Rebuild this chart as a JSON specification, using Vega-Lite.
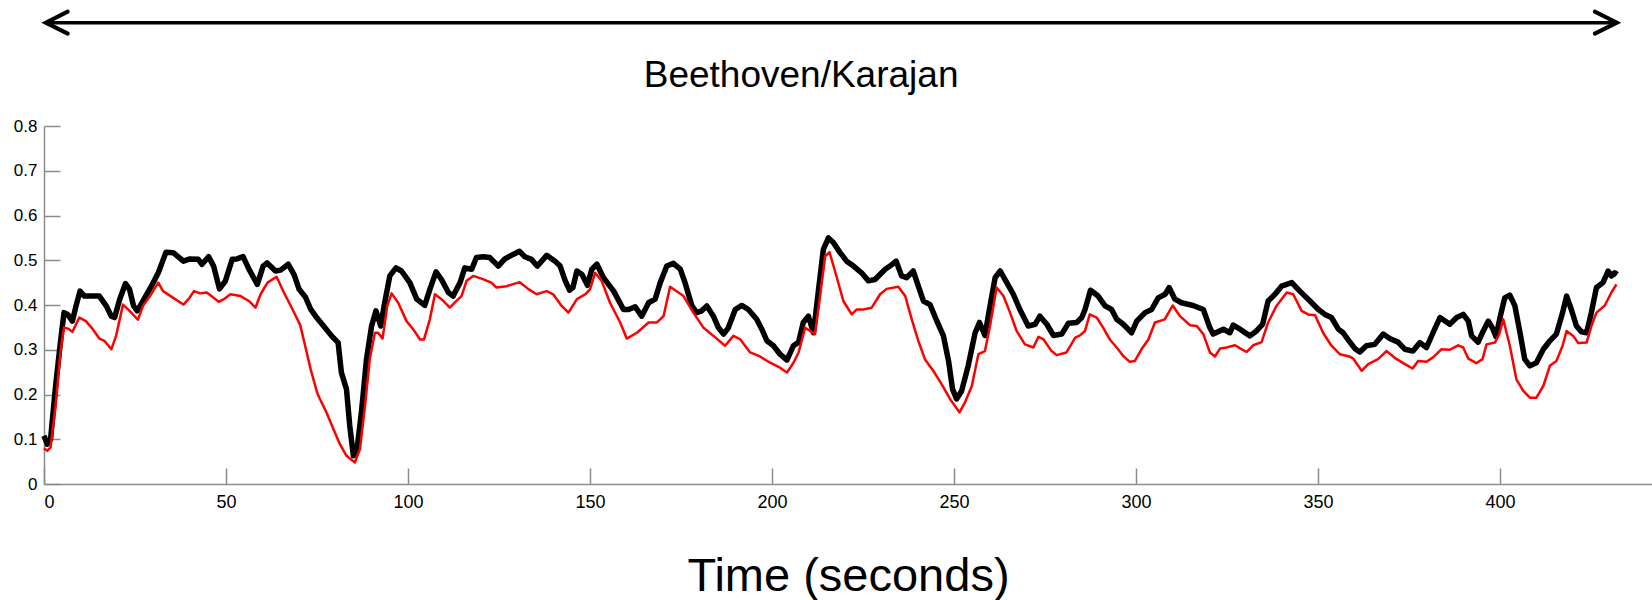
{
  "$schema": "https://vega.github.io/schema/vega-lite/v6.json",
  "width": 1608,
  "height": 358,
  "autosize": {"type": "none"},
  "padding": {"left": 44, "top": 126, "right": 0, "bottom": 116},
  "background": "white",
  "config": {
    "view": {"stroke": null},
    "font": "Liberation Sans",
    "axis": {"grid": false, "domainColor": "#8c8c8c", "tickColor": "#8c8c8c", "domainWidth": 1.5, "tickWidth": 1.5, "labelColor": "#000000", "labelFont": "Liberation Sans"}
  },
  "datasets": {
    "k": [
      {"t":0,"v":0.108},{"t":0.9,"v":0.089},{"t":1.8,"v":0.1},{"t":3.2,"v":0.22},{"t":4.6,"v":0.323},{"t":5.5,"v":0.383},{"t":6.5,"v":0.379},{"t":7.8,"v":0.364},{"t":8.8,"v":0.398},{"t":9.9,"v":0.431},{"t":11.1,"v":0.42},{"t":13.4,"v":0.42},{"t":15.2,"v":0.42},{"t":17.1,"v":0.398},{"t":18.5,"v":0.375},{"t":19.4,"v":0.372},{"t":20.8,"v":0.413},{"t":22.4,"v":0.448},{"t":23.5,"v":0.435},{"t":24.6,"v":0.398},{"t":25.6,"v":0.387},{"t":27.2,"v":0.409},{"t":29.5,"v":0.442},{"t":31.4,"v":0.472},{"t":32.6,"v":0.498},{"t":33.5,"v":0.518},{"t":35.5,"v":0.517},{"t":38.3,"v":0.498},{"t":40.1,"v":0.503},{"t":42.4,"v":0.502},{"t":43.4,"v":0.491},{"t":45.2,"v":0.508},{"t":46.6,"v":0.487},{"t":48.2,"v":0.436},{"t":49.8,"v":0.453},{"t":51.7,"v":0.502},{"t":53.0,"v":0.503},{"t":54.7,"v":0.508},{"t":56.3,"v":0.48},{"t":58.6,"v":0.446},{"t":60.2,"v":0.487},{"t":61.3,"v":0.494},{"t":63.6,"v":0.476},{"t":65.0,"v":0.478},{"t":67.1,"v":0.491},{"t":68.7,"v":0.468},{"t":70.1,"v":0.435},{"t":71.8,"v":0.418},{"t":73.3,"v":0.39},{"t":74.9,"v":0.372},{"t":77.2,"v":0.349},{"t":79.0,"v":0.331},{"t":80.8,"v":0.316},{"t":81.7,"v":0.249},{"t":83.1,"v":0.212},{"t":84.0,"v":0.13},{"t":85.0,"v":0.063},{"t":85.9,"v":0.071},{"t":87.2,"v":0.16},{"t":88.6,"v":0.279},{"t":90.0,"v":0.353},{"t":91.2,"v":0.387},{"t":92.5,"v":0.353},{"t":93.6,"v":0.405},{"t":95.0,"v":0.465},{"t":96.7,"v":0.483},{"t":98.2,"v":0.476},{"t":100.5,"v":0.45},{"t":102.4,"v":0.413},{"t":104.6,"v":0.399},{"t":106.0,"v":0.435},{"t":107.7,"v":0.474},{"t":109.2,"v":0.457},{"t":111.1,"v":0.428},{"t":112.4,"v":0.42},{"t":114.3,"v":0.45},{"t":115.6,"v":0.483},{"t":117.5,"v":0.48},{"t":118.8,"v":0.506},{"t":120.7,"v":0.508},{"t":122.5,"v":0.506},{"t":124.8,"v":0.487},{"t":126.6,"v":0.503},{"t":128.9,"v":0.513},{"t":130.6,"v":0.52},{"t":132.1,"v":0.508},{"t":133.9,"v":0.502},{"t":135.5,"v":0.487},{"t":138.1,"v":0.511},{"t":140.4,"v":0.498},{"t":141.8,"v":0.487},{"t":143.2,"v":0.454},{"t":144.4,"v":0.433},{"t":145.3,"v":0.439},{"t":146.4,"v":0.476},{"t":147.8,"v":0.468},{"t":149.3,"v":0.444},{"t":150.5,"v":0.48},{"t":151.9,"v":0.491},{"t":153.7,"v":0.461},{"t":156.5,"v":0.431},{"t":159.2,"v":0.39},{"t":160.6,"v":0.39},{"t":162.4,"v":0.396},{"t":164.2,"v":0.375},{"t":166.1,"v":0.405},{"t":167.9,"v":0.413},{"t":169.3,"v":0.45},{"t":171.1,"v":0.487},{"t":172.9,"v":0.493},{"t":174.8,"v":0.48},{"t":176.1,"v":0.45},{"t":178.0,"v":0.398},{"t":179.3,"v":0.383},{"t":180.7,"v":0.387},{"t":182.1,"v":0.398},{"t":183.9,"v":0.375},{"t":185.3,"v":0.349},{"t":186.7,"v":0.335},{"t":188.0,"v":0.349},{"t":189.9,"v":0.39},{"t":191.7,"v":0.399},{"t":193.5,"v":0.39},{"t":195.8,"v":0.368},{"t":197.2,"v":0.346},{"t":198.6,"v":0.32},{"t":200.4,"v":0.309},{"t":202.2,"v":0.29},{"t":204.1,"v":0.277},{"t":205.9,"v":0.309},{"t":207.3,"v":0.317},{"t":208.6,"v":0.361},{"t":210.0,"v":0.375},{"t":211.4,"v":0.338},{"t":212.8,"v":0.435},{"t":214.1,"v":0.524},{"t":215.5,"v":0.55},{"t":216.9,"v":0.539},{"t":218.7,"v":0.517},{"t":220.5,"v":0.498},{"t":222.4,"v":0.487},{"t":224.6,"v":0.472},{"t":226.5,"v":0.454},{"t":228.3,"v":0.457},{"t":231.1,"v":0.48},{"t":232.4,"v":0.487},{"t":234.1,"v":0.498},{"t":235.6,"v":0.465},{"t":237.0,"v":0.461},{"t":238.8,"v":0.476},{"t":240.2,"v":0.442},{"t":241.6,"v":0.409},{"t":243.4,"v":0.401},{"t":245.3,"v":0.364},{"t":247.1,"v":0.331},{"t":248.5,"v":0.275},{"t":249.6,"v":0.212},{"t":250.7,"v":0.19},{"t":252.1,"v":0.208},{"t":253.9,"v":0.264},{"t":255.8,"v":0.338},{"t":257.0,"v":0.361},{"t":258.5,"v":0.332},{"t":259.9,"v":0.398},{"t":261.3,"v":0.461},{"t":262.7,"v":0.476},{"t":264.5,"v":0.45},{"t":266.3,"v":0.424},{"t":268.1,"v":0.39},{"t":270.4,"v":0.353},{"t":272.3,"v":0.357},{"t":273.6,"v":0.375},{"t":275.5,"v":0.357},{"t":277.3,"v":0.332},{"t":279.6,"v":0.335},{"t":281.4,"v":0.359},{"t":283.7,"v":0.361},{"t":285.1,"v":0.372},{"t":286.0,"v":0.39},{"t":287.5,"v":0.433},{"t":289.6,"v":0.42},{"t":291.5,"v":0.398},{"t":293.3,"v":0.39},{"t":294.7,"v":0.368},{"t":296.5,"v":0.357},{"t":298.8,"v":0.338},{"t":300.2,"v":0.364},{"t":302.5,"v":0.383},{"t":304.3,"v":0.39},{"t":306.1,"v":0.416},{"t":308.0,"v":0.424},{"t":309.1,"v":0.439},{"t":310.7,"v":0.413},{"t":312.5,"v":0.405},{"t":315.7,"v":0.399},{"t":318.5,"v":0.39},{"t":320.3,"v":0.349},{"t":321.2,"v":0.335},{"t":324.0,"v":0.346},{"t":325.8,"v":0.338},{"t":326.7,"v":0.355},{"t":328.6,"v":0.346},{"t":331.3,"v":0.331},{"t":333.1,"v":0.342},{"t":334.8,"v":0.357},{"t":336.3,"v":0.409},{"t":338.2,"v":0.424},{"t":340.0,"v":0.442},{"t":342.8,"v":0.45},{"t":345.0,"v":0.431},{"t":347.8,"v":0.409},{"t":350.1,"v":0.39},{"t":351.9,"v":0.379},{"t":353.7,"v":0.372},{"t":355.6,"v":0.346},{"t":356.9,"v":0.338},{"t":358.4,"v":0.321},{"t":360.1,"v":0.303},{"t":361.5,"v":0.295},{"t":363.3,"v":0.309},{"t":365.6,"v":0.312},{"t":367.9,"v":0.335},{"t":369.7,"v":0.325},{"t":372.0,"v":0.317},{"t":373.9,"v":0.301},{"t":376.1,"v":0.297},{"t":378.0,"v":0.316},{"t":379.8,"v":0.305},{"t":381.6,"v":0.338},{"t":383.5,"v":0.372},{"t":386.2,"v":0.357},{"t":388.1,"v":0.372},{"t":389.9,"v":0.379},{"t":391.3,"v":0.364},{"t":392.2,"v":0.331},{"t":394.0,"v":0.317},{"t":395.4,"v":0.342},{"t":396.8,"v":0.364},{"t":397.9,"v":0.349},{"t":398.9,"v":0.329},{"t":400.0,"v":0.372},{"t":401.3,"v":0.416},{"t":402.7,"v":0.422},{"t":404.1,"v":0.398},{"t":405.5,"v":0.338},{"t":406.8,"v":0.279},{"t":408.2,"v":0.264},{"t":410.0,"v":0.271},{"t":411.9,"v":0.301},{"t":413.7,"v":0.32},{"t":415.5,"v":0.335},{"t":417.2,"v":0.383},{"t":418.3,"v":0.42},{"t":419.6,"v":0.39},{"t":421.0,"v":0.353},{"t":422.4,"v":0.34},{"t":423.8,"v":0.338},{"t":425.1,"v":0.383},{"t":426.5,"v":0.439},{"t":428.3,"v":0.45},{"t":429.7,"v":0.476},{"t":430.6,"v":0.465},{"t":431.5,"v":0.472},{"t":432.2,"v":0.468}
    ],
    "r": [
      {"t":0,"v":0.08},{"t":0.9,"v":0.074},{"t":1.8,"v":0.082},{"t":3.2,"v":0.175},{"t":4.6,"v":0.301},{"t":5.5,"v":0.35},{"t":6.9,"v":0.346},{"t":7.8,"v":0.34},{"t":9.7,"v":0.372},{"t":11.5,"v":0.364},{"t":13.4,"v":0.346},{"t":15.2,"v":0.325},{"t":16.6,"v":0.32},{"t":18.5,"v":0.301},{"t":19.8,"v":0.331},{"t":21.7,"v":0.401},{"t":23.5,"v":0.387},{"t":25.8,"v":0.367},{"t":27.2,"v":0.398},{"t":29.1,"v":0.42},{"t":31.4,"v":0.45},{"t":32.7,"v":0.431},{"t":35.5,"v":0.416},{"t":38.3,"v":0.401},{"t":39.7,"v":0.413},{"t":41.2,"v":0.431},{"t":42.9,"v":0.426},{"t":44.7,"v":0.428},{"t":46.6,"v":0.416},{"t":48.0,"v":0.407},{"t":49.4,"v":0.413},{"t":51.2,"v":0.424},{"t":54.0,"v":0.42},{"t":56.3,"v":0.409},{"t":58.1,"v":0.394},{"t":59.5,"v":0.424},{"t":61.4,"v":0.45},{"t":63.9,"v":0.463},{"t":65.9,"v":0.428},{"t":68.3,"v":0.39},{"t":70.4,"v":0.355},{"t":72.0,"v":0.3},{"t":73.3,"v":0.255},{"t":75.0,"v":0.205},{"t":75.8,"v":0.19},{"t":77.6,"v":0.16},{"t":79.5,"v":0.123},{"t":81.3,"v":0.089},{"t":83.1,"v":0.063},{"t":85.4,"v":0.048},{"t":86.8,"v":0.078},{"t":88.2,"v":0.175},{"t":89.5,"v":0.279},{"t":90.9,"v":0.338},{"t":91.8,"v":0.338},{"t":93.0,"v":0.325},{"t":94.3,"v":0.398},{"t":95.5,"v":0.426},{"t":97.3,"v":0.405},{"t":99.6,"v":0.364},{"t":101.4,"v":0.346},{"t":103.3,"v":0.323},{"t":104.4,"v":0.323},{"t":106.0,"v":0.368},{"t":107.4,"v":0.424},{"t":109.2,"v":0.413},{"t":111.5,"v":0.394},{"t":113.3,"v":0.409},{"t":114.7,"v":0.42},{"t":116.1,"v":0.454},{"t":117.9,"v":0.465},{"t":120.2,"v":0.459},{"t":122.9,"v":0.45},{"t":124.3,"v":0.439},{"t":127.1,"v":0.442},{"t":130.7,"v":0.451},{"t":133.0,"v":0.436},{"t":135.3,"v":0.424},{"t":138.1,"v":0.431},{"t":139.9,"v":0.424},{"t":142.2,"v":0.398},{"t":144.1,"v":0.383},{"t":146.4,"v":0.413},{"t":148.7,"v":0.424},{"t":150.0,"v":0.435},{"t":151.4,"v":0.472},{"t":153.2,"v":0.454},{"t":155.5,"v":0.405},{"t":158.3,"v":0.361},{"t":160.1,"v":0.325},{"t":162.9,"v":0.338},{"t":166.1,"v":0.361},{"t":168.4,"v":0.361},{"t":170.2,"v":0.375},{"t":172.0,"v":0.441},{"t":175.7,"v":0.42},{"t":178.4,"v":0.383},{"t":181.2,"v":0.349},{"t":183.9,"v":0.331},{"t":187.1,"v":0.309},{"t":189.4,"v":0.331},{"t":191.3,"v":0.323},{"t":194.0,"v":0.294},{"t":196.7,"v":0.285},{"t":199.5,"v":0.271},{"t":202.2,"v":0.26},{"t":204.1,"v":0.249},{"t":205.9,"v":0.271},{"t":207.3,"v":0.294},{"t":209.1,"v":0.349},{"t":210.5,"v":0.342},{"t":211.8,"v":0.335},{"t":212.9,"v":0.4},{"t":214.6,"v":0.509},{"t":215.8,"v":0.518},{"t":217.3,"v":0.476},{"t":219.6,"v":0.409},{"t":221.9,"v":0.379},{"t":223.3,"v":0.39},{"t":225.1,"v":0.39},{"t":227.4,"v":0.394},{"t":229.7,"v":0.424},{"t":231.5,"v":0.436},{"t":234.7,"v":0.441},{"t":236.6,"v":0.42},{"t":238.4,"v":0.368},{"t":240.2,"v":0.32},{"t":242.0,"v":0.279},{"t":244.3,"v":0.253},{"t":246.6,"v":0.223},{"t":248.9,"v":0.19},{"t":251.5,"v":0.16},{"t":253.0,"v":0.182},{"t":254.9,"v":0.219},{"t":256.7,"v":0.29},{"t":258.5,"v":0.297},{"t":259.9,"v":0.353},{"t":261.7,"v":0.439},{"t":263.6,"v":0.42},{"t":265.4,"v":0.383},{"t":267.2,"v":0.342},{"t":269.5,"v":0.312},{"t":271.8,"v":0.305},{"t":273.2,"v":0.329},{"t":274.6,"v":0.323},{"t":276.8,"v":0.297},{"t":278.2,"v":0.288},{"t":280.9,"v":0.294},{"t":283.3,"v":0.327},{"t":284.6,"v":0.332},{"t":286.0,"v":0.342},{"t":287.3,"v":0.379},{"t":289.2,"v":0.372},{"t":291.0,"v":0.349},{"t":292.8,"v":0.323},{"t":294.7,"v":0.305},{"t":296.5,"v":0.286},{"t":298.3,"v":0.273},{"t":299.7,"v":0.275},{"t":301.5,"v":0.301},{"t":303.4,"v":0.323},{"t":305.2,"v":0.361},{"t":307.9,"v":0.368},{"t":310.1,"v":0.399},{"t":312.1,"v":0.375},{"t":314.8,"v":0.355},{"t":316.7,"v":0.353},{"t":318.5,"v":0.335},{"t":320.3,"v":0.294},{"t":321.7,"v":0.285},{"t":323.1,"v":0.303},{"t":324.9,"v":0.305},{"t":327.2,"v":0.31},{"t":328.6,"v":0.303},{"t":330.4,"v":0.295},{"t":332.2,"v":0.31},{"t":334.5,"v":0.317},{"t":336.3,"v":0.361},{"t":338.6,"v":0.398},{"t":341.4,"v":0.428},{"t":343.2,"v":0.424},{"t":345.5,"v":0.387},{"t":347.3,"v":0.379},{"t":349.2,"v":0.377},{"t":351.4,"v":0.338},{"t":353.7,"v":0.309},{"t":356.0,"v":0.29},{"t":358.6,"v":0.285},{"t":359.7,"v":0.28},{"t":362.0,"v":0.253},{"t":363.8,"v":0.268},{"t":366.5,"v":0.279},{"t":368.8,"v":0.297},{"t":371.6,"v":0.279},{"t":373.9,"v":0.268},{"t":376.0,"v":0.258},{"t":377.5,"v":0.275},{"t":379.8,"v":0.273},{"t":381.6,"v":0.283},{"t":383.9,"v":0.301},{"t":386.2,"v":0.3},{"t":388.5,"v":0.31},{"t":389.9,"v":0.305},{"t":391.3,"v":0.28},{"t":393.5,"v":0.27},{"t":395.2,"v":0.279},{"t":396.3,"v":0.312},{"t":398.6,"v":0.316},{"t":399.8,"v":0.335},{"t":400.9,"v":0.368},{"t":402.7,"v":0.309},{"t":404.5,"v":0.234},{"t":406.4,"v":0.208},{"t":408.2,"v":0.193},{"t":410.0,"v":0.193},{"t":411.9,"v":0.219},{"t":413.7,"v":0.264},{"t":415.5,"v":0.275},{"t":417.2,"v":0.309},{"t":418.3,"v":0.342},{"t":420.1,"v":0.331},{"t":421.5,"v":0.315},{"t":423.8,"v":0.316},{"t":425.1,"v":0.353},{"t":426.5,"v":0.383},{"t":428.8,"v":0.399},{"t":430.6,"v":0.428},{"t":432.0,"v":0.446}
    ],
    "arrow": [{"t": 0.47, "t2": 432.1, "v": 1.031}],
    "heads": [{"t": 0.47, "v": 1.031, "dir": "left"}, {"t": 432.1, "v": 1.031, "dir": "right"}],
    "label": [{"t": 208, "v": 0.888, "text": "Beethoven/Karajan"}]
  },
  "layer": [
    {
      "data": {"name": "k"},
      "mark": {"type": "line", "color": "#000000", "strokeWidth": 5.5, "strokeJoin": "round", "clip": false},
      "encoding": {
        "x": {"field": "t", "type": "quantitative", "scale": {"domain": [0, 441.76], "nice": false, "zero": false},
          "axis": {"values": [0, 50, 100, 150, 200, 250, 300, 350, 400], "format": "d", "tickSize": -16, "labelPadding": 25, "labelFontSize": 18, "title": "Time (seconds)", "titleFontSize": 47, "titleFontWeight": "normal", "titleColor": "#000000", "titlePadding": 42}},
        "y": {"field": "v", "type": "quantitative", "scale": {"domain": [0, 0.8], "nice": false},
          "axis": {"values": [0, 0.1, 0.2, 0.3, 0.4, 0.5, 0.6, 0.7, 0.8], "format": "~g", "tickSize": -16, "labelPadding": 23, "labelFontSize": 17, "title": null}}
      }
    },
    {
      "data": {"name": "r"},
      "mark": {"type": "line", "color": "#ff0000", "strokeWidth": 2.5, "strokeJoin": "round", "clip": false},
      "encoding": {
        "x": {"field": "t", "type": "quantitative"},
        "y": {"field": "v", "type": "quantitative"}
      }
    },
    {
      "data": {"name": "arrow"},
      "mark": {"type": "rule", "color": "#000000", "strokeWidth": 3.5, "clip": false},
      "encoding": {
        "x": {"field": "t", "type": "quantitative"},
        "x2": {"field": "t2"},
        "y": {"field": "v", "type": "quantitative"}
      }
    },
    {
      "data": {"name": "heads"},
      "mark": {"type": "point", "filled": false, "stroke": "#000000", "strokeWidth": 4, "size": 484, "opacity": 1, "clip": false, "strokeJoin": "miter", "strokeCap": "round"},
      "encoding": {
        "x": {"field": "t", "type": "quantitative"},
        "y": {"field": "v", "type": "quantitative"},
        "shape": {"field": "dir", "type": "nominal", "scale": {"domain": ["left", "right"], "range": ["M2,-1L0,0L2,1", "M-2,-1L0,0L-2,1"]}, "legend": null}
      }
    },
    {
      "data": {"name": "label"},
      "mark": {"type": "text", "fontSize": 37, "font": "Liberation Sans", "color": "#000000", "align": "center", "baseline": "alphabetic", "clip": false},
      "encoding": {
        "x": {"field": "t", "type": "quantitative"},
        "y": {"field": "v", "type": "quantitative"},
        "text": {"field": "text"}
      }
    }
  ]
}
